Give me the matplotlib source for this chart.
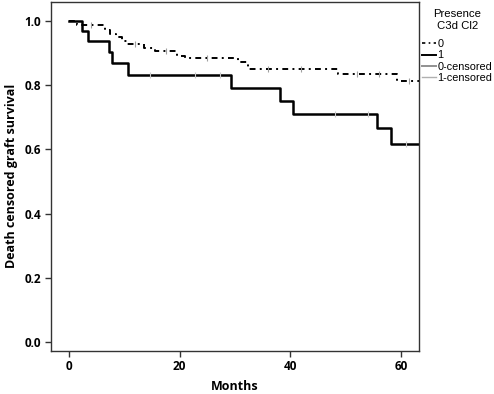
import matplotlib
matplotlib.use("Agg")
import matplotlib.pyplot as plt
from matplotlib.lines import Line2D

# Group 0 (no C3d Cl2) Kaplan-Meier steps
t0 = [0, 1.5, 6.5, 7.5, 8.5, 9.5, 10.5, 13.5, 15.5, 19.5, 21.0, 30.5, 32.4, 48.7, 59.3, 63.3]
s0 = [1.0, 0.985, 0.970, 0.958, 0.950, 0.937, 0.927, 0.914, 0.905, 0.891, 0.883, 0.872, 0.850, 0.833, 0.813, 0.813]
# Group 1 (C3d Cl2 present)
t1 = [0, 2.3, 3.5, 7.3, 7.8, 10.6, 29.3, 38.2, 40.6, 55.7, 58.3, 63.2]
s1 = [1.0, 0.969, 0.937, 0.902, 0.869, 0.831, 0.791, 0.751, 0.711, 0.665, 0.617, 0.617]
# censored observations
c1_t = [14.7, 22.8, 27.3, 48.1, 54.1, 61.0]
c0_t = [4.0, 12.0, 17.5, 25.0, 36.0, 42.0, 52.0, 56.0, 61.5]

xticks = [0, 20, 40, 60]
yticks = [0.0, 0.2, 0.4, 0.6, 0.8, 1.0]

def step_val(ts, ss, x):
    v = ss[0]
    for t, s in zip(ts, ss):
        if t <= x:
            v = s
    return v

plt.rcParams['font.family'] = ['Open Sans', 'DejaVu Sans']
fig = plt.figure(figsize=(4.94, 3.94), dpi=100)
ax = fig.add_axes([51/494, 1-350.5/394, (419-51)/494, (350.5-2)/394])

ax.step(t0, s0, where='post', color='black', lw=1.4, linestyle=(0, (3, 2.2, 1, 2.2)))
ax.step(t1, s1, where='post', color='black', lw=1.8)
ax.plot(c0_t, [step_val(t0, s0, x) for x in c0_t], linestyle='none', marker='|',
        color='#a0a0a0', markersize=4, mew=0.8)
ax.plot(c1_t, [step_val(t1, s1, x) for x in c1_t], linestyle='none', marker='|',
        color='#c8c8c8', markersize=4, mew=0.8)

ax.set_xlim(-3.26, 63.3)
ax.set_ylim(-0.026, 1.058)
ax.set_xticks(xticks)
ax.set_xticklabels([str(x) for x in xticks])
ax.set_yticks(yticks)
ax.set_yticklabels([f"{y:.1f}" for y in yticks])
for sp in ax.spines.values():
    sp.set_color('#333333')
    sp.set_linewidth(1.0)
ax.tick_params(direction='out', length=4, width=1, colors='#333333', labelcolor='black',
               labelsize=8.5, pad=3)
for lab in ax.get_xticklabels() + ax.get_yticklabels():
    lab.set_fontweight('bold')
ax.set_xlabel('Months', fontsize=9, fontweight='bold', labelpad=5)
ax.set_ylabel('Death censored graft survival', fontsize=9, fontweight='bold', labelpad=5)

handles = [
    Line2D([], [], color='black', lw=1.2, linestyle=(0, (2, 2, 1, 2))),
    Line2D([], [], color='black', lw=1.4),
    Line2D([], [], color='#909090', lw=1.4),
    Line2D([], [], color='#b0b0b0', lw=1.0),
]
leg = fig.legend(handles, ['0', '1', '0-censored', '1-censored'],
                 title='Presence\nC3d Cl2', loc='upper left',
                 bbox_to_anchor=(420/494, 1-7/394), frameon=False,
                 prop={'family': 'Liberation Sans', 'size': 7.8},
                 handlelength=1.3, handletextpad=0.1, labelspacing=0.12,
                 borderpad=0.2, borderaxespad=0)
leg.get_title().set_fontfamily('Liberation Sans')
leg.get_title().set_fontsize(8.2)
leg.get_title().set_multialignment('center')
leg._legend_box.align = 'center'
leg._legend_box.sep = 6

fig.savefig('out.png', dpi=100, facecolor='white')
